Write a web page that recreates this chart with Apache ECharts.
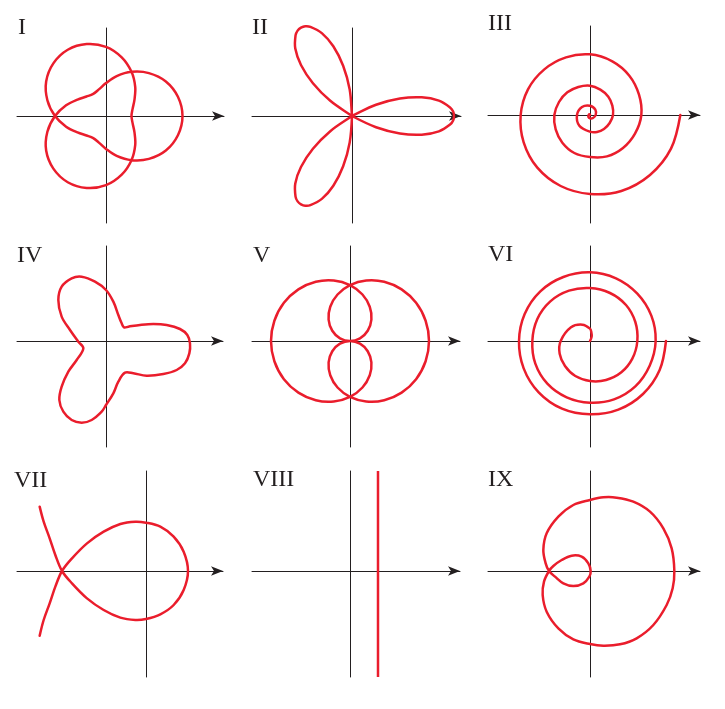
<!DOCTYPE html>
<html>
<head>
<meta charset="utf-8">
<script src="https://cdn.jsdelivr.net/npm/echarts@6/dist/echarts.min.js"></script>
<style>
html,body{margin:0;padding:0;background:#ffffff;}
#chart{width:725px;height:709px;}
</style>
</head>
<body>
<div id="chart"></div>
<script>
// ---------------- DATA ----------------
const panelLabels = ['I', 'II', 'III', 'IV', 'V', 'VI', 'VII', 'VIII', 'IX'];

// Polar curves, points as [r, angle in degrees]
const curveI = [[3,0],[2.92,15],[2.71,30],[2.38,45],[2,60],[1.62,75],[1.29,90],[1.08,105],[1,120],[1.08,135],[1.29,150],[1.62,165],[2,180],[2.38,195],[2.71,210],[2.92,225],
  [3,240],[2.92,255],[2.71,270],[2.38,285],[2,300],[1.62,315],[1.29,330],[1.08,345],[1,0],[1.08,15],[1.29,30],[1.62,45],[2,60],[2.38,75],[2.71,90],[2.92,105],
  [3,120],[2.92,135],[2.71,150],[2.38,165],[2,180],[1.62,195],[1.29,210],[1.08,225],[1,240],[1.08,255],[1.29,270],[1.62,285],[2,300],[2.38,315],[2.71,330],[2.92,345],[3,0]];

const curveII = [[0,330],[1.04,335],[2,340],[2.83,345],[3.46,350],[3.86,355],[3.97,357.5],[4,0],[3.97,2.5],[3.86,5],[3.46,10],[2.83,15],[2,20],[1.04,25],[0,30],
  [0,90],[1.04,95],[2,100],[2.83,105],[3.46,110],[3.86,115],[3.97,117.5],[4,120],[3.97,122.5],[3.86,125],[3.46,130],[2.83,135],[2,140],[1.04,145],[0,150],
  [0,210],[1.04,215],[2,220],[2.83,225],[3.46,230],[3.86,235],[3.97,237.5],[4,240],[3.97,242.5],[3.86,245],[3.46,250],[2.83,255],[2,260],[1.04,265],[0,270]];

const curveV = [[1,0],[0.991,15],[0.966,30],[0.924,45],[0.866,60],[0.793,75],[0.707,90],[0.609,105],[0.5,120],[0.383,135],[0.259,150],[0.131,165],[0,180],
  [0.131,15],[0.259,30],[0.383,45],[0.5,60],[0.609,75],[0.707,90],[0.793,105],[0.866,120],[0.924,135],[0.966,150],[0.991,165],[1,180],
  [0.991,195],[0.966,210],[0.924,225],[0.866,240],[0.793,255],[0.707,270],[0.609,285],[0.5,300],[0.383,315],[0.259,330],[0.131,345],[0,0],
  [0.131,195],[0.259,210],[0.383,225],[0.5,240],[0.609,255],[0.707,270],[0.793,285],[0.866,300],[0.924,315],[0.966,330],[0.991,345],[1,0]];

// Cartesian curves, points as [x, y]
const curveIII = [[0,0],[0,1],[-2,2],[-4,0],[-5,-5],[0,-10],[9,-9],[17,0],[16,16],[0,28],[-24,24],[-39,0],[-32,-32],[0,-50],[21,-51],[42,-42],[59,-24],
  [69,0],[67,28],[55,55],[31,76],[0,88],[-35,84],[-68,68],[-93,39],[-107,0],[-103,-43],[-83,-83],[-47,-114],[0,-126],[51,-124],[99,-99],[135,-56],
  [154,0],[147,61],[118,118],[67,161],[0,182],[-72,173],[-137,137],[-186,77],[-208,0],[-199,-82],[-158,-158],[-88,-213],[0,-237],[94,-228],
  [180,-180],[243,-101],[271,0]];

const curveIV = [[252,-7],[244,18],[222,36],[182,48],[142,51],[102,48],[67,43],[54,41],[47,53],[37,78],[22,118],[0,153],[-33,178],[-73,193],[-103,188],
  [-133,163],[-143,123],[-133,73],[-108,33],[-83,-2],[-68,-22],[-88,-57],[-113,-92],[-133,-137],[-140,-177],[-128,-212],[-103,-237],[-73,-245],
  [-43,-237],[-13,-212],[0,-192],[22,-157],[37,-122],[57,-95],[82,-97],[122,-104],[172,-99],[212,-87],[237,-67],[250,-37],[252,-7]];

const curveVI = [[0,0],[5,13],[4,26],[0,37],[-23,49],[-57,41],[-88,0],[-91,-38],[-75,-75],[-44,-105],[0,-120],[48,-117],[94,-94],[127,-53],
  [142,0],[136,57],[108,108],[60,144],[0,159],[-63,151],[-119,119],[-158,66],[-173,0],[-164,-68],[-128,-128],[-70,-169],[0,-185],[72,-175],
  [136,-136],[179,-74],[197,0],[184,76],[142,142],[78,188],[0,206],[-80,192],[-149,149],[-196,81],[-213,0],[-199,-82],[-154,-154],[-84,-203],
  [0,-220],[85,-206],[159,-159],[209,-87],[228,0]];

const curveVII = [[-319,193],[-307,148],[-289,98],[-272,48],[-252,0],[-222,-37],[-177,-82],[-127,-117],[-77,-140],[-32,-147],[0,-144],[43,-130],
  [83,-102],[113,-57],[126,0],[113,58],[83,103],[43,133],[0,145],[-32,148],[-77,141],[-127,118],[-177,83],[-222,38],[-252,0],[-272,-47],
  [-289,-97],[-307,-147],[-319,-194]];

const lineVIII = [[84,300],[84,-318]];

const curveIX = [[253,0],[245,68],[220,128],[180,178],[130,208],[80,220],[40,221],[0,213],[-50,198],[-95,163],[-130,113],[-140,63],[-133,23],[-123,0],
  [-105,-17],[-80,-37],[-50,-45],[-20,-37],[-2,-17],[2,0],[-5,23],[-25,43],[-55,46],[-85,33],[-110,15],[-123,0],
  [-138,-32],[-142,-72],[-130,-122],[-95,-172],[-50,-205],[0,-219],[40,-224],[90,-220],[140,-202],[190,-162],[230,-102],[248,-52],[253,0]];

// ---------------- LAYOUT / STYLE ----------------
const RED = '#ea1d2c';
const INK = '#231f20';
const U = 3;                 // data units per pixel in the cartesian panels
const ARROW = [7, 12];       // arrow head width, length
const SMOOTH = 0.35;
const LINE_W = 2.5;
const panels = [
  {ox:106, oy:116, l:17,  tip:230, t:28,  b:223, lx:18,  ly:16},
  {ox:352, oy:116, l:252, tip:467, t:28,  b:223, lx:252, ly:16},
  {ox:590, oy:115, l:488, tip:706, t:26,  b:223, lx:488, ly:12},
  {ox:106, oy:341, l:17,  tip:229, t:246, b:447, lx:17,  ly:244},
  {ox:350, oy:341, l:252, tip:466, t:246, b:447, lx:253, ly:244},
  {ox:590, oy:341, l:488, tip:706, t:246, b:447, lx:488, ly:243},
  {ox:146, oy:571, l:17,  tip:229, t:471, b:677, lx:14,  ly:469},
  {ox:350, oy:571, l:252, tip:466, t:471, b:677, lx:253, ly:468},
  {ox:590, oy:571, l:488, tip:706, t:471, b:677, lx:488, ly:468}
];
const polars = [
  {panel:0, radius:102, max:4},
  {panel:1, radius:102, max:4},
  {panel:4, radius:79,  max:1}
];

const hidden = {axisLine:{show:false}, axisTick:{show:false}, axisLabel:{show:false}, splitLine:{show:false}};
const lineEnd = p => p.tip - ARROW[1] / 2;

const option = {
  animation: false,
  backgroundColor: '#ffffff',
  title: panels.map((p, i) => ({
    text: panelLabels[i], left: p.lx, top: p.ly, padding: 0,
    textStyle: {fontFamily: "'Liberation Serif','DejaVu Serif',serif", fontSize: 24, fontWeight: 'normal', color: INK}
  })),
  grid: panels.map(p => ({left: p.l, top: p.t, width: lineEnd(p) - p.l, height: p.b - p.t, containLabel: false})),
  xAxis: panels.map((p, i) => ({
    type: 'value', gridIndex: i,
    min: (p.l - p.ox) * U, max: (lineEnd(p) - p.ox) * U,
    axisLine: {show: true, onZero: true, symbol: ['none', 'arrow'], symbolSize: ARROW, lineStyle: {color: INK, width: 1}},
    axisTick: {show: false}, axisLabel: {show: false}, splitLine: {show: false}
  })),
  yAxis: panels.map((p, i) => ({
    type: 'value', gridIndex: i,
    min: (p.oy - p.b) * U, max: (p.oy - p.t) * U,
    axisLine: {show: true, onZero: true, lineStyle: {color: INK, width: 1}},
    axisTick: {show: false}, axisLabel: {show: false}, splitLine: {show: false}
  })),
  polar: polars.map(q => ({center: [panels[q.panel].ox, panels[q.panel].oy], radius: q.radius})),
  angleAxis: polars.map((q, i) => Object.assign({polarIndex: i, type: 'value', min: 0, max: 360, startAngle: 0, clockwise: false}, hidden)),
  radiusAxis: polars.map((q, i) => Object.assign({polarIndex: i, type: 'value', min: 0, max: q.max}, hidden)),
  series: []
};

// A smooth curve through the data points, positioned by the series' own coordinate system.
function curveSeries(points, coord) {
  const first = points[0], last = points[points.length - 1];
  const closed = first[0] === last[0] && first[1] === last[1];
  return Object.assign({
    type: 'custom',
    silent: true,
    data: points,
    renderItem: function (params, api) {
      if (params.dataIndex !== 0) return null;
      const src = closed ? points.slice(0, -1) : points;
      const pts = src.map(p => api.coord(p));
      return {
        type: closed ? 'polygon' : 'polyline',
        shape: {points: pts, smooth: SMOOTH},
        style: {fill: 'none', stroke: RED, lineWidth: LINE_W, lineCap: 'round', lineJoin: 'round'}
      };
    }
  }, coord);
}

option.series.push(curveSeries(curveI,  {coordinateSystem: 'polar', polarIndex: 0}));
option.series.push(curveSeries(curveII, {coordinateSystem: 'polar', polarIndex: 1}));
option.series.push(curveSeries(curveV,  {coordinateSystem: 'polar', polarIndex: 2}));
option.series.push(curveSeries(curveIII, {xAxisIndex: 2, yAxisIndex: 2}));
option.series.push(curveSeries(curveIV,  {xAxisIndex: 3, yAxisIndex: 3}));
option.series.push(curveSeries(curveVI,  {xAxisIndex: 5, yAxisIndex: 5}));
option.series.push(curveSeries(curveVII, {xAxisIndex: 6, yAxisIndex: 6}));
option.series.push({type: 'line', xAxisIndex: 7, yAxisIndex: 7, data: lineVIII, symbol: 'none', silent: true,
  lineStyle: {color: RED, width: LINE_W}});
option.series.push(curveSeries(curveIX,  {xAxisIndex: 8, yAxisIndex: 8}));

const chart = echarts.init(document.getElementById('chart'), null, {renderer: 'canvas'});
chart.setOption(option);
</script>
</body>
</html>
